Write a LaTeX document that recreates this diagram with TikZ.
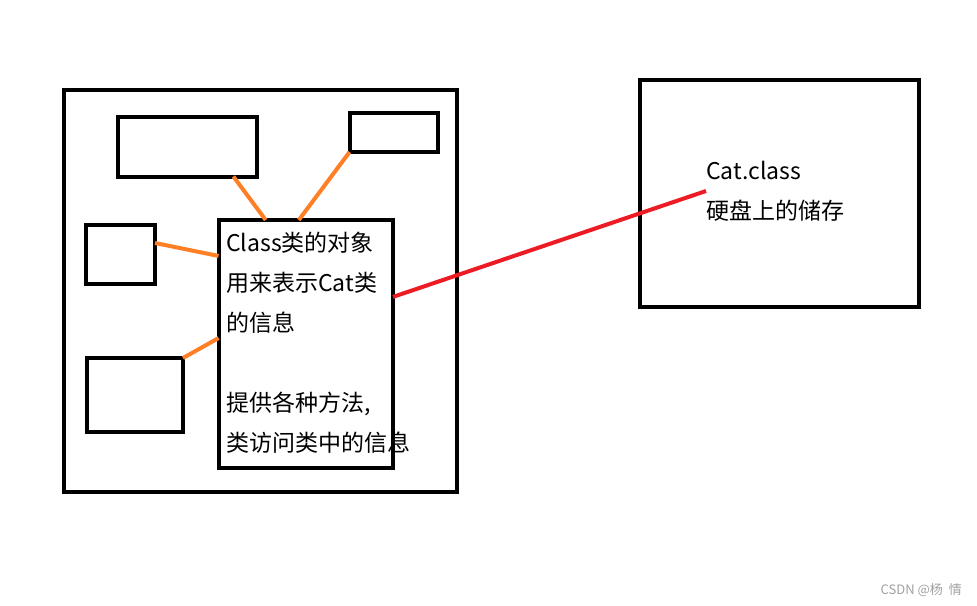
\documentclass[tikz,border=0pt]{standalone}
\usepackage{fontspec}
\setmainfont{Noto Sans CJK SC}
\usetikzlibrary{calc}
\definecolor{paintorange}{RGB}{255,127,39}
\definecolor{paintred}{RGB}{237,28,36}
\definecolor{markgray}{RGB}{160,160,160}

\begin{document}
\begin{tikzpicture}[x=1pt, y=-1pt,
    box/.style={draw, line width=4pt, inner sep=0pt, outer sep=0pt},
    link/.style={paintorange, line width=4pt},
    note/.style={inner sep=0pt, align=left, font=\fontsize{23}{40}\selectfont}]

    % Fix the page size
    \useasboundingbox (0,0) rectangle (977,605);

    % Draw the outer frame and the boxes inside it
    \node[box, minimum width=392.5pt, minimum height=402pt] (frame) at (260.3,291) {};
    \node[box, minimum width=139pt, minimum height=60pt] (topleft) at (187.5,146.5) {};
    \node[box, minimum width=88.5pt, minimum height=39pt] (topright) at (393.8,132.5) {};
    \node[box, minimum width=69.5pt, minimum height=59.5pt] (midleft) at (120.3,254.3) {};
    \node[box, minimum width=96.5pt, minimum height=74pt] (lowleft) at (134.8,395) {};
    \node[box, minimum width=174.5pt, minimum height=248pt] (object) at (305.8,344) {};

    % Draw the box on the right
    \node[box, minimum width=279.5pt, minimum height=227.5pt] (disk) at (779.3,193.3) {};

    % Add the texts
    \node[note, anchor=north west] (objtext) at (226,232)
        {Class类的对象\\用来表示Cat类\\的信息\\[40pt]提供各种方法,\\类访问类中的信息};
    \node[note, anchor=west] (disktext) at (706,191) {Cat.class\\硬盘上的储存};

    % Draw the orange links
    \draw[link] ($(topleft.south west)!0.83!(topleft.south east)$)
        -- ($(object.north west)!0.27!(object.north east)$);
    \draw[link] (topright.south west) -- ($(object.north west)!0.46!(object.north east)$);
    \draw[link] ($(midleft.north east)!0.31!(midleft.south east)$)
        -- ($(object.north west)!0.145!(object.south west)$);
    \draw[link] (lowleft.north east) -- ($(object.north west)!0.476!(object.south west)$);

    % Draw the red link
    \draw[paintred, line width=4pt] ($(object.north east)!0.31!(object.south east)$) -- (disktext.west);

    % Watermark
    \node[markgray, inner sep=0pt, anchor=east, font=\fontsize{13}{15}\selectfont] (mark) at (962,590) {CSDN @杨\ \ 情};

\end{tikzpicture}
\end{document}
